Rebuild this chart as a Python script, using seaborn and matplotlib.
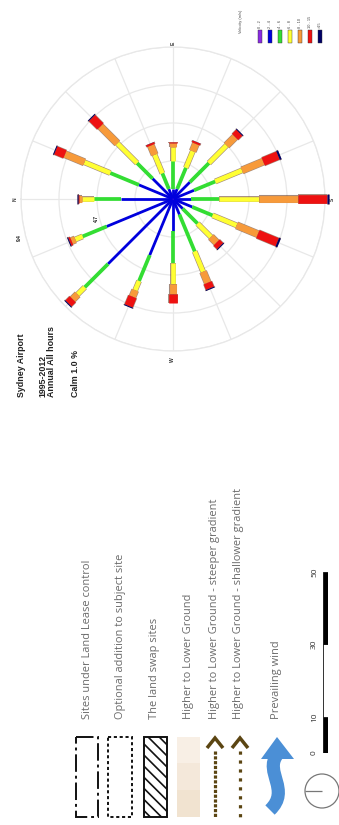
import numpy as np
import pandas as pd
import seaborn as sns
import matplotlib.pyplot as plt
import matplotlib.patheffects as pe
from matplotlib.patches import Rectangle, Circle, Polygon, PathPatch
from matplotlib.path import Path

# wind rose data (frequency %, per direction and speed class)
directions = ["N", "NNE", "NE", "ENE", "E", "ESE", "SE", "SSE",
              "S", "SSW", "SW", "WSW", "W", "WNW", "NW", "NNW"]
speed_classes = ["0 - 2", "2 - 4", "4 - 6", "6 - 8", "8 - 10", "10 - 15", ">15"]
class_colors = ["#8a2be2", "#0000dd", "#33dd33", "#ffff33", "#f79a3a", "#ee1111", "#000066"]

f_0_2 = [0.05, 0.05, 0.05, 0.05, 0.05, 0.05, 0.05, 0.05, 0.05, 0.05, 0.05, 0.05, 0.05, 0.05, 0.05, 0.05]
f_2_4 = [3.15, 2.23, 1.73, 0.62, 0.56, 0.62, 1.42, 1.36, 1.05, 1.24, 0.80, 0.99, 1.92, 3.71, 5.63, 4.39]
f_4_6 = [1.67, 1.92, 1.36, 1.05, 1.73, 1.42, 1.67, 1.42, 1.73, 1.36, 1.30, 2.47, 1.98, 1.73, 2.04, 1.61]
f_6_8 = [0.74, 1.73, 1.73, 1.24, 0.87, 1.11, 1.55, 1.79, 2.47, 1.61, 1.17, 1.36, 1.30, 0.62, 0.62, 0.49]
f_8_10 = [0.19, 1.30, 1.48, 0.62, 0.25, 0.49, 0.74, 1.42, 2.41, 1.42, 0.49, 0.74, 0.62, 0.43, 0.43, 0.25]
f_10_15 = [0.09, 0.62, 0.74, 0.12, 0.06, 0.12, 0.37, 0.99, 1.79, 1.30, 0.31, 0.37, 0.56, 0.62, 0.37, 0.12]
f_gt_15 = [0.03, 0.06, 0.06, 0.01, 0.01, 0.01, 0.06, 0.12, 0.12, 0.12, 0.06, 0.06, 0.02, 0.06, 0.06, 0.06]

ring_values = [2.35, 4.7, 7.05, 9.4]
ring_labels = ["", "4.7", "", "9.4"]

info_lines = ["Sydney Airport", "1995-2012", "Annual All hours", "Calm 1.0 %"]

legend_labels = ["Sites under Land Lease control",
                 "Optional addition to subject site",
                 "The land swap sites",
                 "Higher to Lower Ground",
                 "Higher to Lower Ground - steeper gradient",
                 "Higher to Lower Ground - shallower gradient",
                 "Prevailing wind"]

scale_ticks = [0, 10, 30, 50]
scale_fills = ["black", "white", "black"]

sns.set_theme(style="white")
plt.rcParams['font.family'] = ['Liberation Sans', 'DejaVu Sans']
plt.rcParams['lines.solid_capstyle'] = 'butt'

# long table of bar segments
freqs = [f_0_2, f_2_4, f_4_6, f_6_8, f_8_10, f_10_15, f_gt_15]
rows = []
for i, d in enumerate(directions):
    theta = np.deg2rad(22.5 * i)
    r0 = 0.0
    for k, cls in enumerate(speed_classes):
        r1 = r0 + freqs[k][i]
        seg = f"{d}_{k}"
        rows.append((seg, cls, theta, r0))
        rows.append((seg, cls, theta, r1))
        r0 = r1
segs = pd.DataFrame(rows, columns=["seg", "speed", "theta", "r"])

fig = plt.figure(figsize=(3.39, 8.25), dpi=100)
ax0 = fig.add_axes([0, 0, 1, 1])
ax0.set_xlim(0, 339)
ax0.set_ylim(825, 0)
ax0.axis('off')

# ---- wind rose ----
cx, cy, R = 173, 199, 152
ax = fig.add_axes([(cx - R) / 339, 1 - (cy + R) / 825, 2 * R / 339, 2 * R / 825],
                  projection='polar')
ax.set_theta_zero_location('W')
ax.set_theta_direction(-1)
ax.patch.set_alpha(0)

widths = dict(zip(speed_classes, [1.4, 2.0, 2.7, 3.3, 4.9, 6.2, 6.8]))
sns.lineplot(data=segs, x="theta", y="r", hue="speed", size="speed",
             hue_order=speed_classes, size_order=speed_classes,
             palette=dict(zip(speed_classes, class_colors)), sizes=widths,
             units="seg", estimator=None, sort=False, legend=False,
             ax=ax, clip_on=False, zorder=3)
for ln in ax.lines:
    lw = ln.get_linewidth()
    if lw > 3:
        ln.set_path_effects([pe.Stroke(linewidth=lw + 0.9, foreground='#5a2a10', alpha=0.55),
                             pe.Normal()])

ax.set_ylim(0, 9.4)
ax.set_yticks(ring_values)
ax.set_yticklabels([])
ax.set_xticks(np.deg2rad(np.arange(0, 360, 22.5)))
ax.set_xticklabels([])
ax.grid(True, color='#e8e8e8', lw=0.9)
ax.spines['polar'].set_color('#e8e8e8')
ax.spines['polar'].set_linewidth(0.9)
ax.set_xlabel("")
ax.set_ylabel("")

for v, lab in zip(ring_values, ring_labels):
    if lab:
        ax.text(np.deg2rad(346), v * 1.04, lab, rotation=90, fontsize=3.6,
                fontweight='bold', color='#222', ha='center', va='center')

for lab, deg, rr in [("N", 0, 9.75), ("E", 90, 9.6), ("S", 180, 9.85), ("W", 270, 9.95)]:
    ax.text(np.deg2rad(deg), rr, lab, rotation=90, fontsize=3.6, fontweight='bold',
            color='#333', ha='center', va='center', clip_on=False)

# velocity legend
ax0.text(241, 33, "Velocity (m/s)", rotation=90, fontsize=2.8, color='#444',
         ha='center', va='bottom')
for k, (cls, col) in enumerate(zip(speed_classes, class_colors)):
    x = 260 + 10 * k
    ax0.add_patch(Rectangle((x - 2.2, 30), 4.4, 13, facecolor=col,
                            edgecolor='#333', lw=0.3))
    ax0.text(x, 28, cls, rotation=90, fontsize=2.8, color='#444',
             ha='center', va='bottom')

# station info
for txt, x in zip(info_lines, [22, 43, 51, 75]):
    ax0.text(x, 397, txt, rotation=90, fontsize=6.4, fontweight='bold',
             color='#222', ha='center', va='bottom')

# ---- map legend ----
legend_x = [87, 120, 155, 188, 215, 239, 277]
for txt, x in zip(legend_labels, legend_x):
    ax0.text(x, 719, txt, rotation=90, fontsize=7.9, color='#6a6a6a',
             family=['Open Sans', 'DejaVu Sans'], ha='center', va='bottom')

ax0.add_patch(Rectangle((75.5, 737), 22, 80, fill=False, edgecolor='#111',
                        lw=1.4, ls=(0, (9, 2, 1.5, 2))))
ax0.add_patch(Rectangle((108, 737), 24, 80, fill=False, edgecolor='#111',
                        lw=1.4, ls=(0, (1.6, 1.4))))
plt.rcParams['hatch.linewidth'] = 1.2
ax0.add_patch(Rectangle((143.5, 737), 23, 80, facecolor='white', edgecolor='#111',
                        lw=1.4, hatch='\\\\\\'))
for y0, col in zip([737, 763, 790], ['#f8efe5', '#f4e8da', '#f1e3d0']):
    ax0.add_patch(Rectangle((177, y0), 23, 27, facecolor=col, edgecolor='none'))

arrow_col = '#5b4512'
for x, gap in [(215, 0.5), (240, 1.8)]:
    ax0.plot([x - 8, x, x + 8], [748, 738, 748], color=arrow_col, lw=2.5,
             solid_joinstyle='miter')
    ax0.plot([x, x], [751, 817], color=arrow_col, lw=2.3, ls=(0, (1, gap)))

wind_col = '#4b8fd6'
shaft = Path([(277, 755), (264, 772), (291, 790), (270, 810)],
             [Path.MOVETO, Path.CURVE4, Path.CURVE4, Path.CURVE4])
ax0.add_patch(PathPatch(shaft, fill=False, edgecolor=wind_col, lw=9.5, capstyle='butt'))
ax0.add_patch(Polygon([(261, 759), (277, 737), (294, 759)], closed=True,
                      facecolor=wind_col, edgecolor='none'))

# scale bar
ax_s = fig.add_axes([322.5 / 339, 1 - 753 / 825, 5 / 339, 181 / 825])
ax_s.set_xlim(0, 1)
ax_s.set_ylim(0, 50)
ax_s.axis('off')
for lo, hi, col in zip(scale_ticks[:-1], scale_ticks[1:], scale_fills):
    ax_s.bar(0.5, hi - lo, bottom=lo, width=1, color=col, edgecolor='#111', lw=0.6)
for v in scale_ticks:
    ax_s.text(-1.6, v, str(v), rotation=90, fontsize=6, color='#333',
              family=['Open Sans', 'DejaVu Sans'], ha='center', va='center',
              transform=ax_s.get_yaxis_transform())

ax0.add_patch(Circle((322, 791), 17, fill=False, edgecolor='#777', lw=0.9))
ax0.plot([305, 322], [791, 791], color='#777', lw=0.9)

fig.savefig("out.png", dpi=100)
